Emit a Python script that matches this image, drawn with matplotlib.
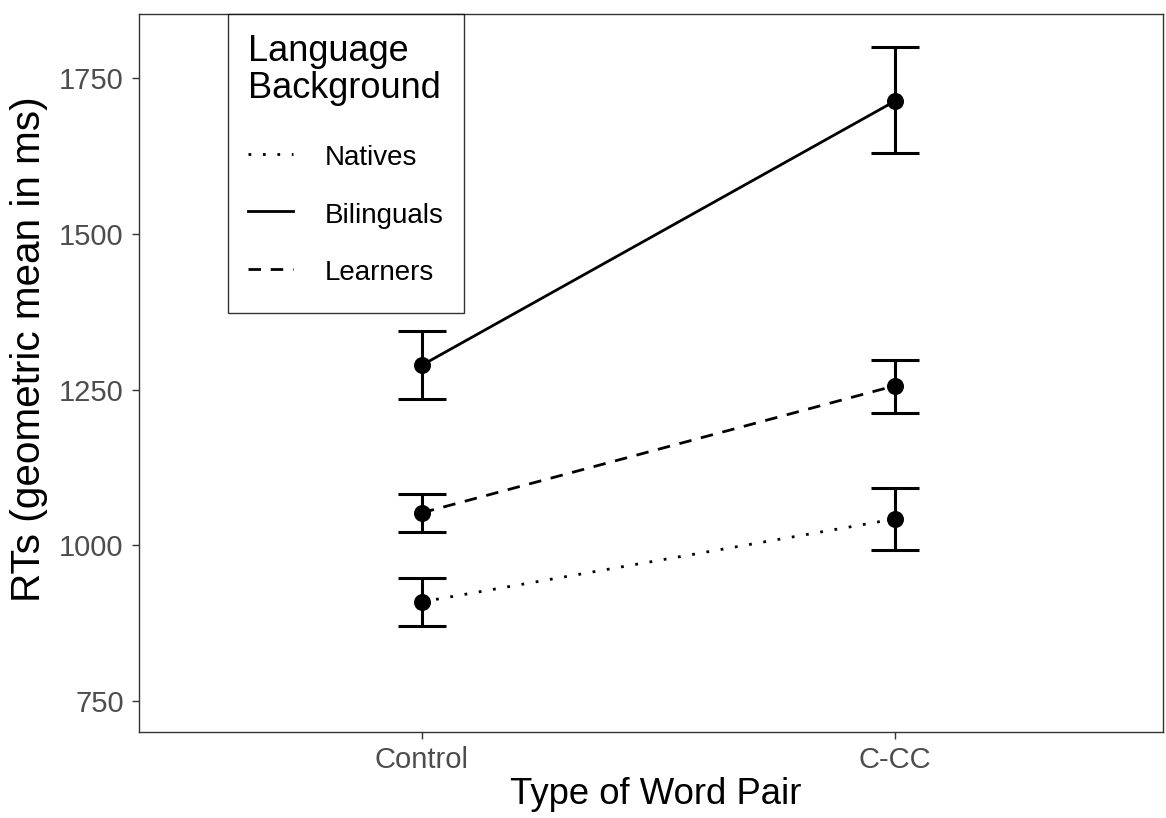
import numpy as np
import matplotlib.pyplot as plt
from matplotlib.lines import Line2D
from matplotlib.legend_handler import HandlerLine2D

plt.rcParams['font.family'] = ['Liberation Sans', 'DejaVu Sans']

# Datos
word_pairs = ['Control', 'C-CC']
groups = ['Natives', 'Bilinguals', 'Learners']
styles = {'Natives': (0, (1, 4.2)), 'Bilinguals': '-', 'Learners': (0, (4.5, 3.5))}

means = {
    'Natives': [909, 1042],
    'Bilinguals': [1289, 1713],
    'Learners': [1052, 1256],
}
upper = {
    'Natives': [947, 1092],
    'Bilinguals': [1344, 1800],
    'Learners': [1082, 1297],
}
lower = {
    'Natives': [870, 992],
    'Bilinguals': [1235, 1630],
    'Learners': [1021, 1212],
}

y_ticks = [750, 1000, 1250, 1500, 1750]


class HandlerLineBajada(HandlerLine2D):
    # baja la línea de la clave para centrarla con el texto
    def create_artists(self, *args, **kwargs):
        artists = super().create_artists(*args, **kwargs)
        for a in artists:
            a.set_ydata(np.asarray(a.get_ydata()) - 3.0)
        return artists


fig = plt.figure(figsize=(11.66, 8.18), dpi=100)
ax = fig.add_axes([139 / 1166, 1 - 732 / 818, 1024 / 1166, 718 / 818])

x = np.arange(len(word_pairs))
handles = []
for g in groups:
    m = np.array(means[g])
    err = np.vstack([m - np.array(lower[g]), np.array(upper[g]) - m])
    ax.plot(x, m, color='black', lw=2.0, linestyle=styles[g], zorder=2)
    ax.errorbar(x, m, yerr=err, fmt='none', ecolor='black', elinewidth=2.2,
                capsize=17, capthick=2.2, zorder=3)
    ax.scatter(x, m, s=150, color='black', zorder=4, linewidths=0)
    handles.append(Line2D([0], [0], color='black', lw=2.0, linestyle=styles[g], label=g))

ax.set_xlim(-0.598, 1.567)
ax.set_ylim(700, 1853)
ax.set_xticks(x)
ax.set_xticklabels(word_pairs)
ax.set_yticks(y_ticks)
ax.tick_params(axis='both', labelsize=21, labelcolor='#4d4d4d', color='#333333',
               length=5, width=1)
ax.tick_params(axis='y', pad=6)
ax.tick_params(axis='x', pad=5)
for s in ax.spines.values():
    s.set_color('#333333')
    s.set_linewidth(1.0)

ax.set_xlabel('Type of Word Pair', fontsize=26.3, labelpad=2)
ax.set_ylabel('RTs (geometric mean in ms)', fontsize=29.2, labelpad=8)
ax.xaxis.label.set_x(0.505)
ax.yaxis.label.set_y(0.533)

leg = ax.legend(handles=handles, title='Language\nBackground', loc='upper left',
                bbox_to_anchor=((228 - 139) / 1024, 1.0), borderaxespad=0,
                fontsize=20, title_fontsize=26, frameon=True, fancybox=False,
                edgecolor='black', handlelength=1.62, handleheight=2.06,
                labelspacing=0.49, borderpad=0.72, handletextpad=1.15,
                handler_map={Line2D: HandlerLineBajada()})
leg.get_frame().set_linewidth(1.0)
leg.get_title().set_linespacing(1.08)
leg._legend_box.align = 'left'
leg._legend_box.sep = 28 * 72 / 100  # espacio entre título y claves, en puntos

plt.savefig('out.png', dpi=100)
